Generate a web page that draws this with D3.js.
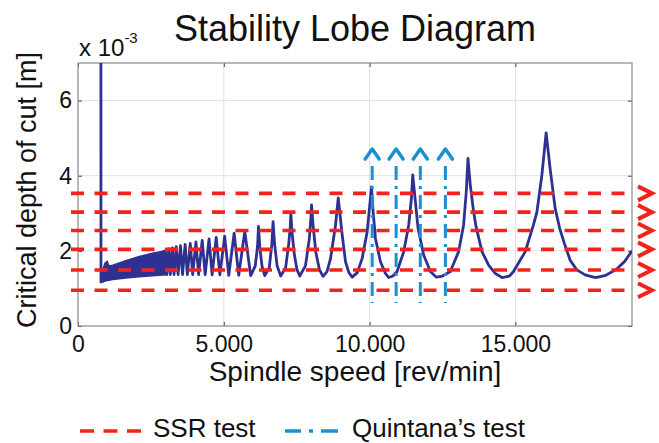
<html>
<head>
<meta charset="utf-8">
<title>Stability Lobe Diagram</title>
<script src="https://cdn.jsdelivr.net/npm/d3@7"></script>
<style>
  body { margin: 0; background: #fff; font-family: "Liberation Sans", Arial, Helvetica, sans-serif; color: #111; }
  text { fill: #111; }
</style>
</head>
<body>
<div id="chart"></div>
<script>
// ticks
var xTicks = [0, 5000, 10000, 15000];
var yTicks = [0, 2, 4, 6];

// SSR test depths (x 10^-3 m)
var ssrDepth = [3.53, 3.03, 2.54, 2.04, 1.49, 0.95];

// Quintana's test spindle speeds (rev/min)
var quintanaSpeed = [10090, 10910, 11740, 12600];

// low speed part: lobes too dense to separate, read as a band
var bandSpeed  = [790, 850, 930, 1000, 1060, 1190, 1640, 2100, 2560, 2995];
var bandTop    = [1.42, 1.50, 1.68, 1.72, 1.60, 1.62, 1.74, 1.85, 1.94, 2.00];
var bandBottom = [1.17, 1.18, 1.20, 1.21, 1.22, 1.24, 1.28, 1.31, 1.34, 1.36];

// lobe curve (rev/min, x 10^-3 m)
var lobeSpeed = [786, 788,
  2995, 3045, 3110, 3164, 3235, 3293, 3370, 3432, 3515, 3584, 3675, 3750, 3850, 3934,
  4045, 4137, 4260, 4361, 4495, 4600, 4740, 4865, 5030, 5170, 5355, 5512, 5720, 5922,
  6080, 6160, 6190, 6235, 6310, 6405,
  6560, 6650, 6690, 6740, 6830, 6952,
  7120, 7230, 7280, 7300, 7340, 7420, 7510, 7605,
  7800, 7930, 7985, 8010, 8060, 8160, 8280, 8403,
  8540, 8662, 8833, 8925, 9062, 9175, 9290, 9404,
  9580, 9745, 9918, 10007, 10065, 10122, 10202, 10373, 10544, 10658,
  10800, 10944, 11172, 11343, 11435, 11480, 11571, 11663, 11855, 12085, 12290,
  12500, 12770, 13054, 13225, 13317, 13375, 13454, 13568, 13650, 13855, 14082, 14310, 14540,
  14800, 14935, 15340, 15620, 15740, 15910, 16055, 16190, 16365, 16520, 16680, 16880,
  17100, 17390, 17750, 18100, 18450, 18750, 19000];
var lobeDepth = [7.3, 1.17,
  2.00, 1.37, 2.05, 1.37, 2.08, 1.37, 2.11, 1.37, 2.14, 1.37, 2.17, 1.37, 2.20, 1.37,
  2.24, 1.37, 2.28, 1.37, 2.32, 1.36, 2.36, 1.36, 2.39, 1.35, 2.47, 1.35, 2.52, 1.34,
  1.60, 2.15, 2.65, 2.10, 1.60, 1.34,
  1.55, 2.20, 2.78, 2.20, 1.60, 1.33,
  1.55, 2.20, 2.65, 3.00, 2.50, 1.90, 1.50, 1.33,
  1.60, 2.30, 2.85, 3.22, 2.70, 1.95, 1.50, 1.32,
  1.45, 1.80, 2.69, 3.41, 2.42, 1.71, 1.42, 1.30,
  1.42, 1.80, 2.51, 3.22, 3.70, 3.04, 2.33, 1.71, 1.40, 1.29,
  1.33, 1.45, 1.98, 2.69, 3.40, 4.02, 3.31, 2.60, 1.89, 1.45, 1.30,
  1.33, 1.45, 1.98, 2.69, 3.58, 4.46, 3.75, 3.04, 2.65, 1.98, 1.62, 1.40, 1.29,
  1.33, 1.45, 1.98, 2.69, 3.04, 4.02, 5.14, 4.20, 3.13, 2.60, 2.20, 1.75,
  1.50, 1.36, 1.29, 1.35, 1.50, 1.72, 2.00];

var width = 659, height = 443;
var lobeColor = "#2e3192", ssrColor = "#f2231c", quintanaColor = "#1b8fd2";

var svg = d3.select("#chart").append("svg")
  .attr("width", width)
  .attr("height", height);

var x = d3.scaleLinear().domain([0, 19000]).range([78, 632]);
var y = d3.scaleLinear().domain([0, 7]).range([326, 63]);

var fmt = d3.formatLocale({decimal: ",", thousands: ".", grouping: [3], currency: ["", ""]}).format(",");

// grid
svg.append("g").selectAll("line").data(xTicks.slice(1)).enter().append("line")
  .attr("x1", d => x(d)).attr("x2", d => x(d))
  .attr("y1", y(0)).attr("y2", y(7))
  .attr("stroke", "#e0e0e0").attr("stroke-width", 1);
svg.append("g").selectAll("line").data(yTicks.slice(1)).enter().append("line")
  .attr("x1", x(0)).attr("x2", x(19000))
  .attr("y1", d => y(d)).attr("y2", d => y(d))
  .attr("stroke", "#e0e0e0").attr("stroke-width", 1);

// axes
svg.append("g").attr("transform", "translate(0," + y(0) + ")")
  .call(d3.axisBottom(x).tickValues(xTicks).tickSize(-4).tickPadding(10).tickFormat(fmt));
svg.append("g").attr("transform", "translate(" + x(0) + ",0)")
  .call(d3.axisLeft(y).tickValues(yTicks).tickSize(-4).tickPadding(6).tickFormat(d3.format("d")));
svg.append("g").attr("transform", "translate(" + x(19000) + ",0)")
  .call(d3.axisRight(y).tickValues(yTicks).tickSize(-4).tickFormat(""));
svg.append("g").attr("transform", "translate(0," + y(7) + ")")
  .call(d3.axisTop(x).tickValues(xTicks).tickSize(-4).tickFormat(""));
svg.selectAll(".domain").remove();
svg.selectAll(".tick line").attr("stroke", "#444");
svg.selectAll(".tick text")
  .style("font-family", "'Liberation Sans', Arial, sans-serif")
  .style("font-size", "23px").attr("fill", "#111");

svg.append("rect")
  .attr("x", x(0)).attr("y", y(7))
  .attr("width", x(19000) - x(0)).attr("height", y(0) - y(7))
  .attr("fill", "none").attr("stroke", "#8a8a8a").attr("stroke-width", 1.2);

// clip
svg.append("clipPath").attr("id", "plotclip").append("rect")
  .attr("x", x(0)).attr("y", y(7))
  .attr("width", x(19000) - x(0)).attr("height", y(0) - y(7));

var plot = svg.append("g").attr("clip-path", "url(#plotclip)");

var band = d3.area()
  .x(i => x(bandSpeed[i]))
  .y0(i => y(bandBottom[i]))
  .y1(i => y(bandTop[i]));
plot.append("path")
  .attr("d", band(d3.range(bandSpeed.length)))
  .attr("fill", lobeColor)
  .attr("stroke", lobeColor).attr("stroke-width", 1.5);

var lobeLine = d3.line()
  .x(i => x(lobeSpeed[i]))
  .y(i => y(lobeDepth[i]));
plot.append("path")
  .attr("d", lobeLine(d3.range(lobeSpeed.length)))
  .attr("fill", "none")
  .attr("stroke", lobeColor).attr("stroke-width", 2.8)
  .attr("stroke-linejoin", "round");

// Quintana's test
var qTop = 4.26, qBottom = 0.61, qTip = 4.71;
svg.append("g").selectAll("line").data(quintanaSpeed).enter().append("line")
  .attr("x1", d => x(d)).attr("x2", d => x(d))
  .attr("y1", y(qTop)).attr("y2", y(qBottom))
  .attr("stroke", quintanaColor).attr("stroke-width", 3)
  .attr("stroke-dasharray", "14,6,3,6");
svg.append("g").selectAll("path").data(quintanaSpeed).enter().append("path")
  .attr("d", d => "M" + (x(d) - 7) + "," + (y(qTip) + 10) + "L" + x(d) + "," + y(qTip) + "L" + (x(d) + 7) + "," + (y(qTip) + 10))
  .attr("fill", "none").attr("stroke", quintanaColor).attr("stroke-width", 3.5)
  .attr("stroke-linecap", "round").attr("stroke-linejoin", "round");

// SSR test
svg.append("g").selectAll("line").data(ssrDepth).enter().append("line")
  .attr("x1", x(0) - 7).attr("x2", x(19000) - 6)
  .attr("y1", d => y(d)).attr("y2", d => y(d))
  .attr("stroke", ssrColor).attr("stroke-width", 3.6)
  .attr("stroke-dasharray", "13,10.5");
svg.append("g").selectAll("path").data(ssrDepth).enter().append("path")
  .attr("d", d => "M" + (x(19000) + 6) + "," + (y(d) - 7) + "L" + (x(19000) + 20) + "," + y(d) + "L" + (x(19000) + 6) + "," + (y(d) + 7))
  .attr("fill", "none").attr("stroke", ssrColor).attr("stroke-width", 4)
  .attr("stroke-linejoin", "miter");

// texts
svg.append("text").attr("x", 355).attr("y", 41)
  .attr("text-anchor", "middle").style("font-size", "36px")
  .text("Stability Lobe Diagram");
var mult = svg.append("text").attr("x", 79).attr("y", 56).style("font-size", "24px");
mult.append("tspan").text("x 10");
mult.append("tspan").attr("dy", -13).style("font-size", "15px").text("-3");
svg.append("text")
  .attr("transform", "translate(36,190) rotate(-90)")
  .attr("text-anchor", "middle").style("font-size", "27px")
  .text("Critical depth of cut [m]");
svg.append("text").attr("x", 355).attr("y", 381)
  .attr("text-anchor", "middle").style("font-size", "28px")
  .text("Spindle speed [rev/min]");

// legend
var legend = svg.append("g");
legend.append("line").attr("x1", 80).attr("x2", 141).attr("y1", 431).attr("y2", 431)
  .attr("stroke", ssrColor).attr("stroke-width", 3.5).attr("stroke-dasharray", "14,9.5");
legend.append("text").attr("x", 153).attr("y", 437).style("font-size", "26px").text("SSR test");
legend.append("line").attr("x1", 285).attr("x2", 338).attr("y1", 431).attr("y2", 431)
  .attr("stroke", quintanaColor).attr("stroke-width", 3.5).attr("stroke-dasharray", "16,8,4,8,17");
legend.append("text").attr("x", 352).attr("y", 437).style("font-size", "26px").text("Quintana\u2019s test");
</script>
</body>
</html>
